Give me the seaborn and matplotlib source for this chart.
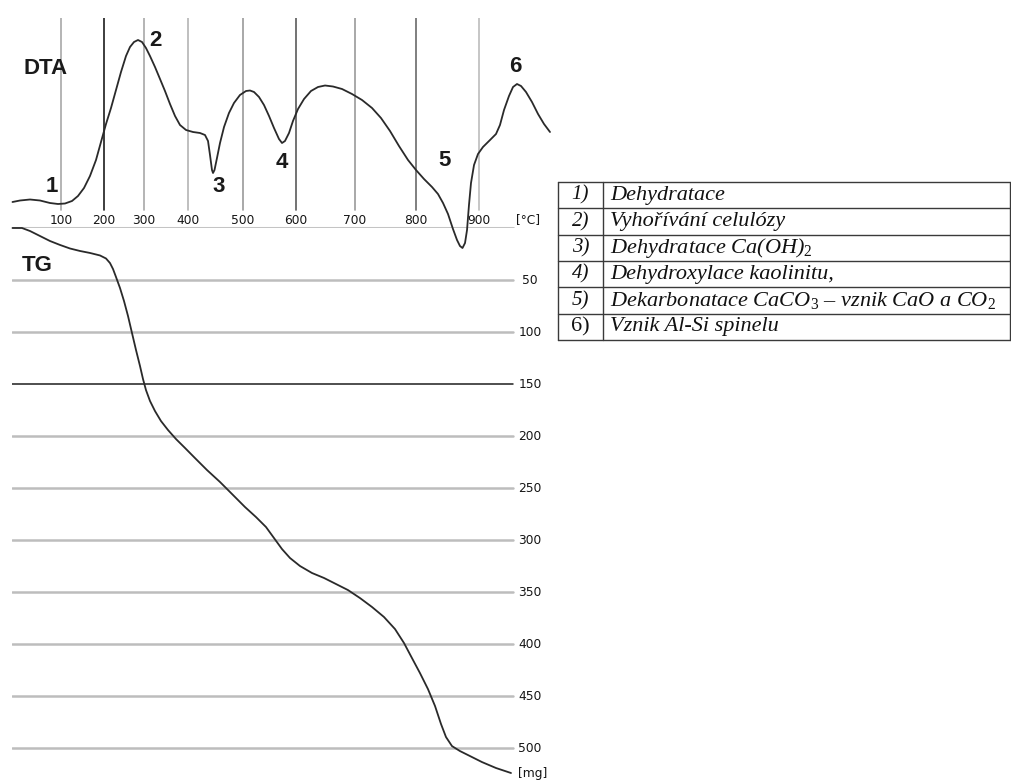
import numpy as np
import matplotlib
matplotlib.use("Agg")
import matplotlib.pyplot as plt
import seaborn as sns

# ---------------- data ----------------
# DTA curve: temperature [°C] and signal (arbitrary units)
dta_temp = [20.8, 33.1, 49.4, 65.7, 82.0, 95.1, 109.3, 125.6, 139.5, 153.5, 167.4, 181.4,
            193.0, 205, 217.5, 230, 242.5, 255, 265, 275, 285, 295, 304.5, 313.6, 325,
            336.4, 347.7, 359.1, 370.5, 381.8, 395.5, 409.1, 421.8, 430.9, 436.4, 440,
            443.6, 445.5, 448.2, 452.7, 458.2, 465.5, 474.5, 483.6, 494.5, 505.7, 513.2,
            520.8, 530.2, 539.6, 549.1, 558.5, 567.9, 573.6, 579.2, 586.8, 594.3, 603.4,
            613.6, 625.4, 637.3, 649.2, 662.7, 678, 694.9, 711.5, 727.9, 742.6, 757.4,
            772.1, 786.9, 800, 812.7, 825.4, 834.9, 842.9, 850.8, 858.7, 865.1, 869.8,
            873.8, 877.8, 881, 884.1, 887.3, 892.1, 898.4, 906.3, 917.5, 927, 933.3,
            939.7, 947.6, 954, 960.3, 966.7, 974.6, 984.1, 993.7, 1003.2, 1012.7]
dta_signal = [2.6, 2.75, 2.85, 2.75, 2.5, 2.4, 2.45, 2.7, 3.2, 4.0, 5.2, 6.8,
              8.6, 10.4, 12.0, 13.8, 15.6, 17.2, 18.1, 18.6, 18.8, 18.6, 18.0, 17.2, 16.1,
              14.9, 13.7, 12.4, 11.2, 10.3, 9.8, 9.6, 9.5, 9.3, 8.7, 7.3,
              5.8, 5.5, 5.8, 7.0, 8.5, 10.1, 11.5, 12.5, 13.3, 13.7, 13.75,
              13.6, 13.1, 12.3, 11.2, 10.0, 8.9, 8.5, 8.7, 9.5, 10.7, 11.9,
              12.9, 13.7, 14.1, 14.25, 14.15, 13.9, 13.4, 12.8, 12.0, 11.0, 9.7,
              8.2, 6.8, 5.8, 4.9, 4.1, 3.4, 2.5, 1.4, -0.1, -1.2, -1.8,
              -2.0, -1.5, -0.2, 2.3, 4.5, 6.3, 7.4, 8.1, 8.8, 9.4, 10.3,
              11.8, 13.2, 14.1, 14.4, 14.2, 13.6, 12.6, 11.4, 10.4, 9.6]

# TG curve: temperature [°C] and mass loss [mg]
tg_temp = [20.8, 36.3, 49.4, 65.7, 82.0, 98.4, 120.9, 144.2, 167.4, 190.7, 205, 215,
           222.5, 230, 240, 250, 260, 270, 280, 290, 297.5, 304.5, 313.6, 325, 338.6,
           354.5, 372.7, 393.2, 412.7, 434.5, 458.2, 481.8, 503.8, 524.5, 543.4, 558.5,
           573.6, 588.7, 606.8, 627.1, 647.5, 667.8, 688.1, 708.2, 727.9, 747.5, 765.6,
           780.3, 793.4, 806.3, 819, 830.2, 839.7, 847.6, 857.1, 869.8, 885.7, 904.8,
           927, 950.8]
tg_mass = [0, 0, 2.9, 7.7, 12.5, 16.3, 19.7, 22.1, 24.0, 26.4, 29.3, 33.7,
           39.4, 47.1, 57.7, 70.2, 84.6, 101, 117.3, 132.7, 145.2, 155.8, 166.3, 176, 185.6,
           194.2, 202.9, 211.5, 221.2, 232.7, 244.2, 256.7, 268.3, 277.9, 287.5, 298.1,
           308.7, 317.3, 325, 331.7, 336.5, 342.3, 348.1, 355.8, 364.4, 374, 385.6,
           399, 413.5, 427.9, 443.3, 459.6, 476.9, 489.4, 498.1, 502.9, 507.7, 513.5,
           519.2, 524]

temp_ticks = [100, 200, 300, 400, 500, 600, 700, 800, 900]
mass_ticks = [50, 100, 150, 200, 250, 300, 350, 400, 450, 500]

peak_labels = ["1", "2", "3", "4", "5", "6"]
peak_temp = [85, 327, 455, 574, 845, 957]
peak_signal = [4.1, 18.7, 4.1, 6.6, 6.8, 16.1]

table_numbers = ["1)", "2)", "3)", "4)", "5)", "6)"]
table_texts = [
    "Dehydratace",
    "Vyhořívání celulózy",
    "Dehydratace Ca(OH)$_\\mathit{2}$",
    "Dehydroxylace kaolinitu,",
    "Dekarbonatace CaCO$_\\mathit{3}$ – vznik CaO a CO$_\\mathit{2}$",
    "Vznik Al-Si spinelu",
]

# ---------------- style ----------------
sns.set_style("white")
plt.rcParams["font.family"] = ["DejaVu Sans"]
plt.rcParams["mathtext.fontset"] = "custom"
plt.rcParams["mathtext.it"] = "Liberation Serif:italic"
plt.rcParams["mathtext.rm"] = "Liberation Serif"

# the temperature axis of the instrument chart is not uniform: piecewise scale
scale_temp = np.array([20, 100, 200, 300, 400, 500, 600, 700, 800, 900, 1100], float)
scale_pos = np.array([12, 61, 104, 144, 188, 243, 296, 355, 416, 479, 605], float)


def temp_fwd(t):
    t = np.asarray(t, float)
    out = np.interp(t, scale_temp, scale_pos)
    lo = (scale_pos[1] - scale_pos[0]) / (scale_temp[1] - scale_temp[0])
    hi = (scale_pos[-1] - scale_pos[-2]) / (scale_temp[-1] - scale_temp[-2])
    out = np.where(t < scale_temp[0], scale_pos[0] + (t - scale_temp[0]) * lo, out)
    out = np.where(t > scale_temp[-1], scale_pos[-1] + (t - scale_temp[-1]) * hi, out)
    return out


def temp_inv(p):
    p = np.asarray(p, float)
    out = np.interp(p, scale_pos, scale_temp)
    lo = (scale_temp[1] - scale_temp[0]) / (scale_pos[1] - scale_pos[0])
    hi = (scale_temp[-1] - scale_temp[-2]) / (scale_pos[-1] - scale_pos[-2])
    out = np.where(p < scale_pos[0], scale_temp[0] + (p - scale_pos[0]) * lo, out)
    out = np.where(p > scale_pos[-1], scale_temp[-1] + (p - scale_pos[-1]) * hi, out)
    return out


W, H = 1012, 782
fig = plt.figure(figsize=(W / 100, H / 100), dpi=100)
fig.patch.set_facecolor("white")


def rect(x0, y0, x1, y1):
    return [x0 / W, 1 - y1 / H, (x1 - x0) / W, (y1 - y0) / H]


ax_dta = fig.add_axes(rect(12, 18, 550, 228))
ax_tg = fig.add_axes(rect(12, 228, 550, 778))
ax_tab = fig.add_axes(rect(558, 182, 1010, 340))

for ax in (ax_dta, ax_tg):
    ax.set_xscale("function", functions=(temp_fwd, temp_inv))
    ax.set_xlim(20, 1012.7)
    ax.set_axis_off()

ax_dta.set_ylim(0, 21.0)
ax_tg.set_ylim(528.8, 0)

curve_color = "#2a2a2a"
label_font = dict(family="Liberation Sans", fontsize=16, fontweight="bold", color="#1a1a1a")
tick_font = dict(family="DejaVu Sans", fontsize=8.8, color="#151515")
line_end = 0.931

# ---------------- DTA ----------------
vline_colors = ["#a8a8a8", "#1c1c1c", "#a8a8a8", "#b4b4b4", "#9a9a9a",
                "#5a5a5a", "#9a9a9a", "#6a6a6a", "#bcbcbc"]
for t, c in zip(temp_ticks, vline_colors):
    ax_dta.axvline(t, ymin=0.086, ymax=1.0, color=c, lw=1.2, zorder=1)
    ax_dta.text(t, 0.038, str(t), transform=ax_dta.get_xaxis_transform(),
                ha="center", va="center", **tick_font)
ax_dta.text(978.6, 0.038, "[°C]", transform=ax_dta.get_xaxis_transform(),
            ha="center", va="center", **tick_font)
ax_dta.axhline(0, xmin=0, xmax=line_end, color="#c4c4c4", lw=2.2, zorder=1)

sns.lineplot(x=dta_temp, y=dta_signal, ax=ax_dta, color=curve_color, lw=1.3,
             estimator=None, sort=False, clip_on=False, legend=False, zorder=3)

ax_dta.text(38, 16.0, "DTA", ha="left", va="center", **label_font)
for lab, t, v in zip(peak_labels, peak_temp, peak_signal):
    ax_dta.text(t, v, lab, ha="center", va="center", **label_font)

# ---------------- TG ----------------
for m in mass_ticks:
    dark = m == 150
    ax_tg.axhline(m, xmin=0, xmax=line_end, color="#1e1e1e" if dark else "#bdbdbd",
                  lw=1.1 if dark else 1.8, zorder=1)
    ax_tg.text(0.963, m, str(m), transform=ax_tg.get_yaxis_transform(),
               ha="center", va="center", **tick_font)
ax_tg.text(0.968, 524, "[mg]", transform=ax_tg.get_yaxis_transform(),
           ha="center", va="center", **tick_font)

sns.lineplot(x=tg_temp, y=tg_mass, ax=ax_tg, color=curve_color, lw=1.3,
             estimator=None, sort=False, clip_on=False, legend=False, zorder=3)
ax_tg.text(36, 36.5, "TG", ha="left", va="center", **label_font)

# ---------------- legend table ----------------
ax_tab.set_xlim(0, 1)
ax_tab.set_ylim(len(table_texts), 0)
ax_tab.set_axis_off()
col_split = 45 / 452
for i in range(len(table_texts) + 1):
    ax_tab.axhline(i, color="#3a3a3a", lw=1.0, clip_on=False)
for x in (0, col_split, 1):
    ax_tab.axvline(x, color="#3a3a3a", lw=1.0, clip_on=False)

for i, (num, txt) in enumerate(zip(table_numbers, table_texts)):
    upright = i == len(table_texts) - 1
    ax_tab.text(col_split / 2, i + 0.5, num, ha="center", va="center",
                family="Liberation Serif", fontsize=15 if not upright else 16,
                style="normal" if upright else "italic", color="#111111")
    ax_tab.text(0.115, i + 0.5, txt, ha="left", va="center",
                family="Liberation Serif", fontsize=16, style="italic", color="#111111")

fig.savefig("out.png", dpi=100, facecolor="white")
